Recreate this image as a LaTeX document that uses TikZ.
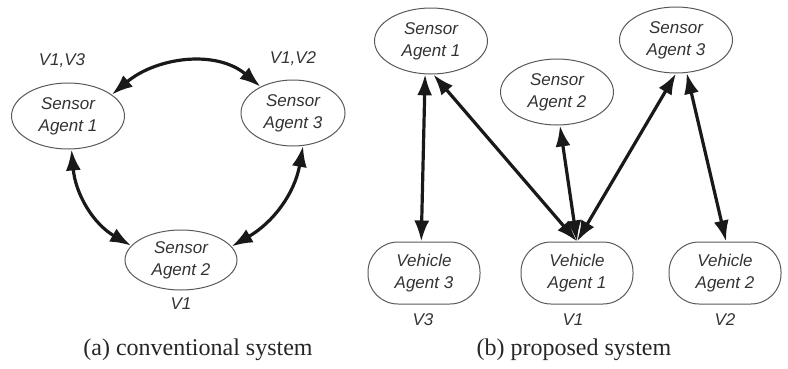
\documentclass[tikz,border=0pt]{standalone}
\usepackage{fontspec}
\setmainfont{Liberation Serif}
\setsansfont{Liberation Sans}
\usetikzlibrary{shapes.geometric,arrows.meta}
\tikzset{
  agent/.style={ellipse,draw=black!65,line width=1pt,inner sep=0pt,
    minimum width=113pt,minimum height=66pt,align=center,text=black!80,
    font=\fontsize{17}{22}\selectfont\sffamily\itshape},
  vehicle/.style={agent,rectangle,rounded corners=30pt,minimum width=112pt,minimum height=62pt},
  tag/.style={text=black!80,font=\fontsize{17}{20}\selectfont\sffamily\itshape},
  link/.style={{Latex[length=21pt,width=15pt]}-{Latex[length=21pt,width=15pt]},line width=3.2pt,black!90},
  subcap/.style={text=black!85,font=\fontsize{24}{28}\selectfont}
}
\begin{document}
\begin{tikzpicture}[x=1pt,y=1pt]
\useasboundingbox (0,0) rectangle (788,-368);
\node[agent] (s1a) at (68,-116) {Sensor\\Agent 1};
\node[agent,minimum width=104pt] (s3a) at (293,-113) {Sensor\\Agent 3};
\node[agent,minimum width=112pt,minimum height=60pt] (s2a) at (181,-260) {Sensor\\Agent 2};
\node[tag] (l13) at (62,-61) {V1,V3};
\node[tag] (l12) at (293,-59) {V1,V2};
\node[tag] (l1a) at (181,-304) {V1};
\draw[link] (s1a.26) to[out=40,in=140] (s3a.141);
\draw[link] (s1a.-84) to[out=-85,in=150] (s2a.164);
\draw[link] (s3a.-73) to[out=-100,in=30] (s2a.15);

\node[agent] (s1b) at (431,-41) {Sensor\\Agent 1};
\node[agent] (s2b) at (557,-92) {Sensor\\Agent 2};
\node[agent] (s3b) at (676,-40) {Sensor\\Agent 3};
\node[vehicle] (v3) at (424,-273) {Vehicle\\Agent 3};
\node[vehicle] (v1) at (577,-273) {Vehicle\\Agent 1};
\node[vehicle] (v2) at (725,-273) {Vehicle\\Agent 2};
\node[tag] (l3b) at (423,-320) {V3};
\node[tag] (l1b) at (573,-320) {V1};
\node[tag] (l2b) at (725,-320) {V2};
\draw[link] (s1b.-100) -- (v3.95);
\draw[link] (s1b.-86) -- (v1.north);
\draw[link] (s2b.-85) -- (v1.north);
\draw[link] (s3b.-90) -- (v1.north);
\draw[link] (s3b.-72) -- (v2.88);

\node[subcap] (capa) at (198,-350) {(a) conventional system};
\node[subcap] (capb) at (574,-350) {(b) proposed system};
\end{tikzpicture}
\end{document}
